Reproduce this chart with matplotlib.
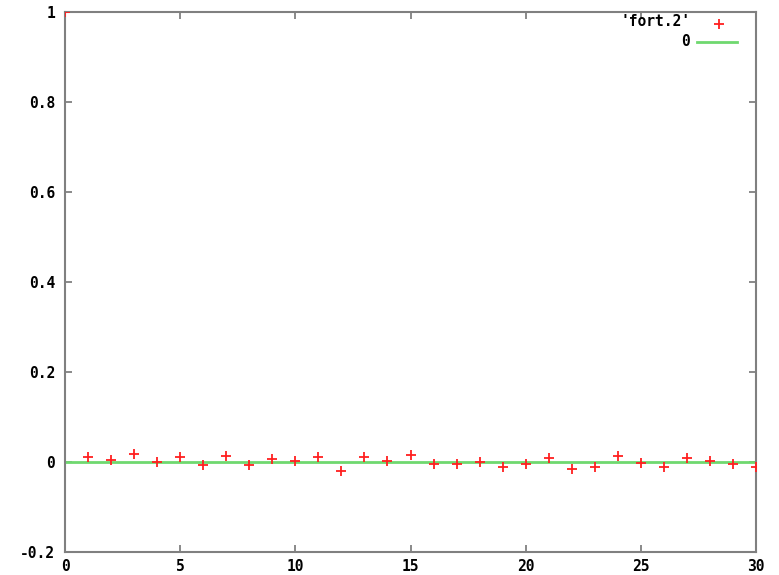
import matplotlib
matplotlib.use("Agg")
import matplotlib.pyplot as plt
from matplotlib.lines import Line2D

x_vals = list(range(0, 31))
y_vals = [1.0, 0.011, 0.005, 0.017, 0.0, 0.011, -0.006, 0.014, -0.006, 0.006, 0.003,
          0.011, -0.019, 0.011, 0.002, 0.015, -0.005, -0.005, 0.0, -0.012, -0.005,
          0.009, -0.015, -0.011, 0.014, -0.003, -0.012, 0.010, 0.003, -0.005, -0.010]
zero_x = [0, 30]
zero_y = [0, 0]
x_ticks = [0, 5, 10, 15, 20, 25, 30]
y_ticks = [-0.2, 0, 0.2, 0.4, 0.6, 0.8, 1]
y_tick_labels = ["-0.2", "0", "0.2", "0.4", "0.6", "0.8", "1"]
legend_labels = ["'fort.2'", "0"]

plt.rcParams['font.family'] = ['DejaVu Sans Mono']
plt.rcParams['font.weight'] = 'bold'

fig = plt.figure(figsize=(7.79, 5.75), dpi=100)
ax = fig.add_axes([65/779, 23/575, (756-65)/779, (552-12)/575])

ax.plot(zero_x, zero_y, color='#6fd86f', lw=2, zorder=2)
ax.plot(x_vals, y_vals, linestyle='none', marker='+', color='#ff2020',
        markersize=7, mew=1.3, zorder=3)

ax.set_xlim(0, 30)
ax.set_ylim(-0.2, 1)
ax.set_xticks(x_ticks)
ax.set_xticklabels([str(t) for t in x_ticks])
ax.set_yticks(y_ticks)
ax.set_yticklabels(y_tick_labels)
ax.tick_params(direction='in', length=5, width=1.3, color='#808080',
               top=True, right=True, labelsize=10.5, pad=5)
ax.tick_params(axis='y', pad=7)
for lab in ax.get_xticklabels() + ax.get_yticklabels():
    lab.set_fontweight('bold')
for s in ax.spines.values():
    s.set_color('#808080')
    s.set_linewidth(1.5)

# legend (gnuplot style, top right)
ax.text(0.905, 0.982, legend_labels[0], transform=ax.transAxes, ha='right', va='center',
        fontsize=10.5, fontweight='bold')
ax.add_line(Line2D([0.946], [0.978], transform=ax.transAxes, marker='+',
                   color='#ff2020', markersize=7, mew=1.3, linestyle='none'))
ax.text(0.905, 0.945, legend_labels[1], transform=ax.transAxes, ha='right', va='center',
        fontsize=10.5, fontweight='bold')
ax.add_line(Line2D([0.915, 0.972], [0.945, 0.945], transform=ax.transAxes,
                   color='#6fd86f', lw=2))

fig.savefig("out.png", dpi=100)
